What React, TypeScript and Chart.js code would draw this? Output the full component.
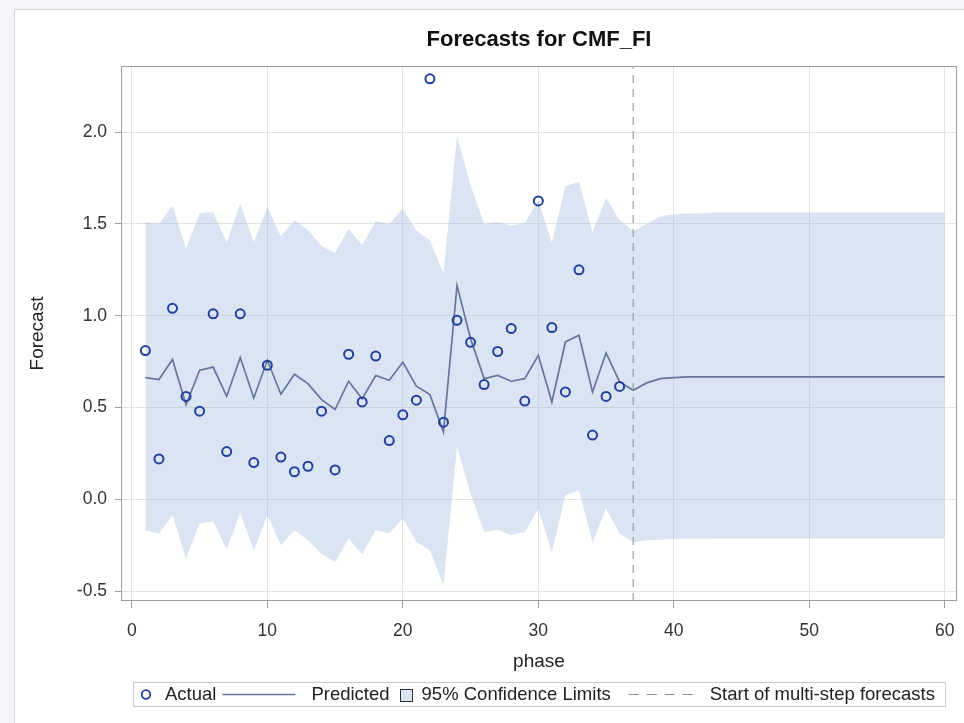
import React, { useEffect, useRef } from 'react';
import { Chart, registerables } from 'chart.js';

Chart.register(...registerables);

const chartTitle = 'Forecasts for CMF_FI';
const xTitle = 'phase';
const yTitle = 'Forecast';

const phases = [
  1, 2, 3, 4, 5, 6, 7, 8, 9, 10, 11, 12, 13, 14, 15, 16, 17, 18, 19, 20,
  21, 22, 23, 24, 25, 26, 27, 28, 29, 30, 31, 32, 33, 34, 35, 36, 37, 38, 39, 40,
  41, 42, 43, 44, 45, 46, 47, 48, 49, 50, 51, 52, 53, 54, 55, 56, 57, 58, 59, 60,
];

const actualValues = [
  0.81, 0.22, 1.04, 0.56, 0.48, 1.01, 0.26, 1.01, 0.2, 0.73,
  0.23, 0.15, 0.18, 0.48, 0.16, 0.79, 0.53, 0.78, 0.32, 0.46,
  0.54, 2.29, 0.42, 0.975, 0.855, 0.625, 0.805, 0.93, 0.535, 1.625,
  0.935, 0.585, 1.25, 0.35, 0.56, 0.615,
];

const predictedValues = [
  0.663, 0.652, 0.761, 0.515, 0.703, 0.72, 0.561, 0.772, 0.552, 0.757,
  0.572, 0.681, 0.63, 0.543, 0.489, 0.643, 0.548, 0.674, 0.648, 0.746,
  0.616, 0.57, 0.367, 1.165, 0.875, 0.657, 0.675, 0.643, 0.657, 0.784,
  0.53, 0.857, 0.893, 0.584, 0.797, 0.639, 0.594, 0.634, 0.657, 0.663,
  0.667, 0.667, 0.667, 0.667, 0.667, 0.667, 0.667, 0.667, 0.667, 0.667,
  0.667, 0.667, 0.667, 0.667, 0.667, 0.667, 0.667, 0.667, 0.667, 0.667,
];

const upperValues = [
  1.51, 1.5, 1.6, 1.365, 1.556, 1.565, 1.4, 1.61, 1.4, 1.59,
  1.433, 1.52, 1.465, 1.38, 1.342, 1.474, 1.383, 1.516, 1.5, 1.582,
  1.465, 1.41, 1.23, 1.98, 1.71, 1.5, 1.51, 1.49, 1.505, 1.63,
  1.396, 1.705, 1.729, 1.456, 1.643, 1.52, 1.46, 1.5, 1.54, 1.553,
  1.557, 1.558, 1.562, 1.562, 1.562, 1.562, 1.562, 1.562, 1.562, 1.562,
  1.562, 1.562, 1.562, 1.562, 1.562, 1.562, 1.562, 1.562, 1.562, 1.562,
];

const lowerValues = [
  -0.169, -0.187, -0.087, -0.323, -0.132, -0.12, -0.274, -0.075, -0.278, -0.087,
  -0.251, -0.169, -0.223, -0.296, -0.341, -0.214, -0.3, -0.169, -0.187, -0.105,
  -0.232, -0.278, -0.468, 0.285, 0.031, -0.178, -0.165, -0.196, -0.178, -0.051,
  -0.287, 0.022, 0.049, -0.232, -0.051, -0.187, -0.232, -0.223, -0.22, -0.216,
  -0.215, -0.215, -0.213, -0.213, -0.213, -0.213, -0.213, -0.213, -0.213, -0.213,
  -0.213, -0.213, -0.213, -0.213, -0.213, -0.213, -0.213, -0.213, -0.213, -0.213,
];

const forecastStart = 37;
const xTicks = [0, 10, 20, 30, 40, 50, 60];
const yTicks = [-0.5, 0.0, 0.5, 1.0, 1.5, 2.0];
const xMin = -0.8;
const xMax = 60.9;
const yMin = -0.554;
const yMax = 2.36;

const legendLabels = ['Actual', 'Predicted', '95% Confidence Limits', 'Start of multi-step forecasts'];

const FONT = '"Liberation Sans", Arial, Helvetica, sans-serif';
const BAND = 'rgba(160,184,222,0.38)';
const PRED = '#65769c';
const MARK = '#22409c';
const DASH = '#8c8c8c';

const framePlugin = {
  id: 'frame',
  afterDraw(chart: any) {
    const { ctx, chartArea: a } = chart;
    ctx.save();
    ctx.strokeStyle = '#9e9e9e';
    ctx.lineWidth = 1;
    ctx.strokeRect(Math.round(a.left) + 0.5, Math.round(a.top) + 0.5, Math.round(a.right - a.left) - 1, Math.round(a.bottom - a.top) - 1);
    ctx.restore();
  },
};

const legendPlugin = {
  id: 'sasLegend',
  afterDraw(chart: any) {
    const { ctx, chartArea: a } = chart;
    ctx.save();
    ctx.font = `18.5px ${FONT}`;
    const items = [
      { kind: 'marker', sw: 22, g: 8, ga: 6, text: legendLabels[0] },
      { kind: 'line', sw: 73, g: 16, ga: 8, text: legendLabels[1] },
      { kind: 'square', sw: 16, g: 8, ga: 18, text: legendLabels[2] },
      { kind: 'dash', sw: 65, g: 16, ga: 0, text: legendLabels[3] },
    ];
    const padL = 2;
    const padR = 10;
    let total = padL + padR;
    items.forEach((it) => {
      total += it.sw + it.g + ctx.measureText(it.text).width + it.ga;
    });
    const cx = (a.left + a.right) / 2;
    const x0 = Math.round(cx - total / 2);
    const top = Math.round(a.bottom + 81);
    const h = 24;
    ctx.fillStyle = '#ffffff';
    ctx.fillRect(x0, top, total, h);
    ctx.strokeStyle = '#c9c9c9';
    ctx.lineWidth = 1;
    ctx.strokeRect(x0 + 0.5, top + 0.5, Math.round(total), h);
    const cy = top + h / 2 + 0.5;
    let x = x0 + padL;
    ctx.textBaseline = 'middle';
    ctx.textAlign = 'left';
    items.forEach((it) => {
      if (it.kind === 'marker') {
        ctx.beginPath();
        ctx.arc(x + it.sw / 2, cy, 4.3, 0, Math.PI * 2);
        ctx.strokeStyle = MARK;
        ctx.lineWidth = 1.8;
        ctx.stroke();
      } else if (it.kind === 'line') {
        ctx.beginPath();
        ctx.moveTo(x, cy);
        ctx.lineTo(x + it.sw, cy);
        ctx.strokeStyle = PRED;
        ctx.lineWidth = 1.6;
        ctx.stroke();
      } else if (it.kind === 'square') {
        const s = 12;
        const sx = Math.round(x + (it.sw - s) / 2) + 0.5;
        const sy = Math.round(cy - s / 2) + 0.5;
        ctx.fillStyle = BAND;
        ctx.fillRect(sx, sy, s, s);
        ctx.strokeStyle = '#333';
        ctx.lineWidth = 1;
        ctx.strokeRect(sx, sy, s, s);
      } else {
        ctx.beginPath();
        ctx.setLineDash([10, 8]);
        ctx.moveTo(x, cy);
        ctx.lineTo(x + it.sw, cy);
        ctx.strokeStyle = DASH;
        ctx.lineWidth = 1;
        ctx.stroke();
        ctx.setLineDash([]);
      }
      x += it.sw + it.g;
      ctx.fillStyle = '#222';
      ctx.fillText(it.text, x, cy);
      x += ctx.measureText(it.text).width + it.ga;
    });
    ctx.restore();
  },
};

export default function App() {
  const ref = useRef<HTMLCanvasElement | null>(null);

  useEffect(() => {
    if (!ref.current) return;
    const toXY = (vals: number[]) => vals.map((v, i) => ({ x: phases[i], y: v }));
    const chart = new Chart(ref.current, {
      type: 'line',
      data: {
        datasets: [
          {
            label: 'lower',
            data: toXY(lowerValues),
            borderWidth: 0,
            pointRadius: 0,
            fill: false,
            order: 4,
          },
          {
            label: '95% Confidence Limits',
            data: toXY(upperValues),
            borderWidth: 0,
            pointRadius: 0,
            backgroundColor: BAND,
            fill: '-1',
            order: 3,
          },
          {
            label: 'Predicted',
            data: toXY(predictedValues),
            borderColor: PRED,
            borderWidth: 1.7,
            pointRadius: 0,
            fill: false,
            tension: 0,
            order: 2,
          },
          {
            label: 'Start of multi-step forecasts',
            data: [
              { x: forecastStart, y: yMin },
              { x: forecastStart, y: yMax },
            ],
            borderColor: DASH,
            borderWidth: 1,
            borderDash: [8, 6],
            pointRadius: 0,
            fill: false,
            order: 1,
          },
          {
            label: 'Actual',
            data: toXY(actualValues),
            showLine: false,
            pointRadius: 4.5,
            pointBorderWidth: 2,
            pointBorderColor: MARK,
            pointBackgroundColor: 'rgba(0,0,0,0)',
            borderColor: MARK,
            fill: false,
            order: 0,
          },
        ],
      },
      options: {
        responsive: false,
        animation: false,
        layout: { padding: { left: 0, right: 7, top: 0, bottom: 48 } },
        plugins: {
          legend: { display: false },
          tooltip: { enabled: false },
          title: {
            display: true,
            text: chartTitle,
            fullSize: false,
            color: '#111',
            font: { family: FONT, size: 22, weight: 'bold' },
            padding: { top: 16.8, bottom: 12.8 },
          },
        },
        scales: {
          x: {
            type: 'linear',
            min: xMin,
            max: xMax,
            afterBuildTicks: (s: any) => {
              s.ticks = xTicks.map((v) => ({ value: v }));
            },
            afterFit: (s: any) => {
              s.height = 74;
              s.paddingLeft = 0;
              s.paddingRight = 0;
            },
            border: { display: false },
            grid: { color: '#e3e3e3', tickColor: '#9e9e9e', tickLength: 7, lineWidth: 1 },
            ticks: {
              color: '#333',
              font: { family: FONT, size: 17.5 },
              padding: 12.5,
              maxRotation: 0,
              callback: (v: any) => String(v),
            },
            title: {
              display: true,
              text: xTitle,
              color: '#222',
              font: { family: FONT, size: 19 },
              padding: { top: 0, bottom: 1.5 },
            },
          },
          y: {
            type: 'linear',
            min: yMin,
            max: yMax,
            afterBuildTicks: (s: any) => {
              s.ticks = yTicks.map((v) => ({ value: v }));
            },
            afterFit: (s: any) => {
              s.width = 106;
              s.paddingTop = 0;
              s.paddingBottom = 0;
            },
            border: { display: false },
            grid: { color: '#e3e3e3', tickColor: '#9e9e9e', tickLength: 6, lineWidth: 1 },
            ticks: {
              color: '#333',
              font: { family: FONT, size: 17.5 },
              padding: 8,
              callback: (v: any) => Number(v).toFixed(1),
            },
            title: {
              display: true,
              text: yTitle,
              color: '#222',
              font: { family: FONT, size: 19 },
              padding: { top: 11.6, bottom: 0 },
            },
          },
        },
      },
      plugins: [framePlugin, legendPlugin],
    } as any);
    return () => chart.destroy();
  }, []);

  return (
    <div style={{ position: 'fixed', inset: 0, background: '#f4f5f9' }}>
      <div
        style={{
          position: 'absolute',
          left: 14,
          top: 9,
          right: 0,
          bottom: 0,
          background: '#ffffff',
          borderLeft: '1px solid #d4d4d4',
          borderTop: '1px solid #d4d4d4',
        }}
      >
        <canvas ref={ref} width={949} height={713} style={{ position: 'absolute', left: 0, top: 0, width: 949, height: 713 }} />
      </div>
    </div>
  );
}
